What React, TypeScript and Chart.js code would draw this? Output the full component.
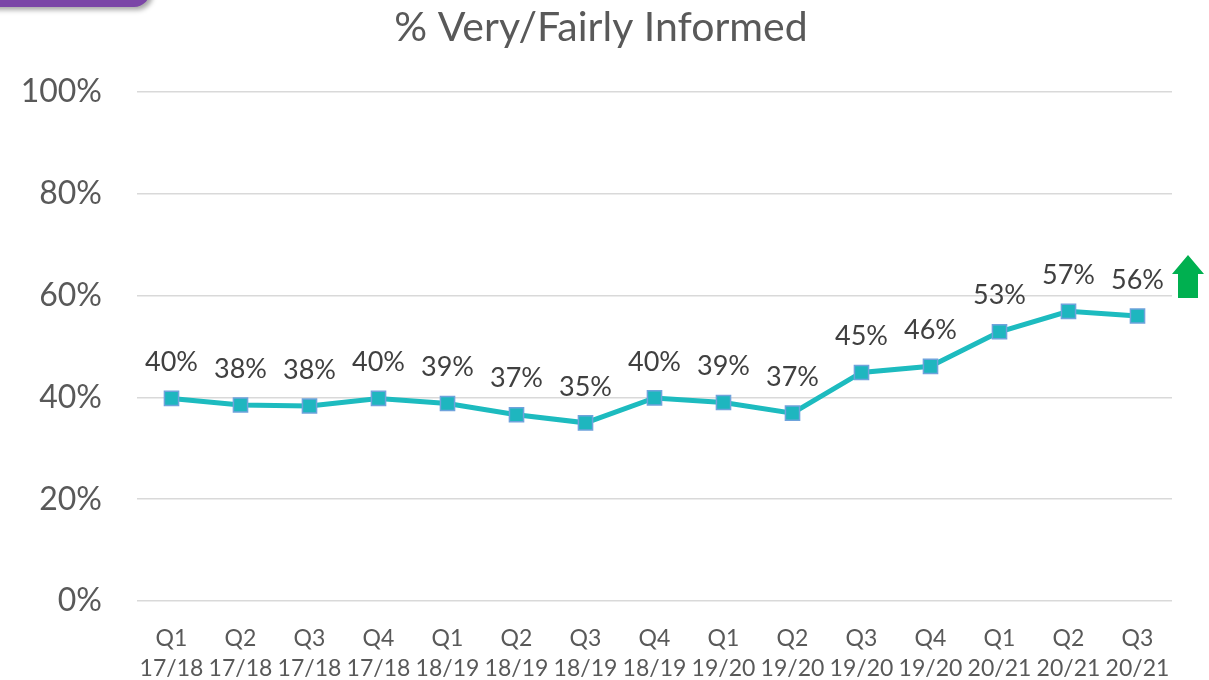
import React, { useEffect, useRef } from "react";
import { Chart, registerables } from "chart.js";

Chart.register(...registerables);

const categories: string[][] = [
  ["Q1", "17/18"], ["Q2", "17/18"], ["Q3", "17/18"], ["Q4", "17/18"],
  ["Q1", "18/19"], ["Q2", "18/19"], ["Q3", "18/19"], ["Q4", "18/19"],
  ["Q1", "19/20"], ["Q2", "19/20"], ["Q3", "19/20"], ["Q4", "19/20"],
  ["Q1", "20/21"], ["Q2", "20/21"], ["Q3", "20/21"],
];
const informedPct: number[] = [39.8, 38.5, 38.3, 39.8, 38.8, 36.6, 35.0, 39.9, 39.0, 36.9, 44.9, 46.1, 52.9, 56.9, 56.0];
const valueLabels: string[] = ["40%", "38%", "38%", "40%", "39%", "37%", "35%", "40%", "39%", "37%", "45%", "46%", "53%", "57%", "56%"];
const yTicks: number[] = [0, 20, 40, 60, 80, 100];
const titleText = "% Very/Fairly Informed";

const FONT = "Lato, 'Open Sans', sans-serif";

const overlayPlugin = {
  id: "overlay",
  afterDatasetsDraw(chart: any) {
    const ctx = chart.ctx;
    const meta = chart.getDatasetMeta(0);
    ctx.save();
    ctx.fillStyle = "#404040";
    ctx.font = `27px ${FONT}`;
    ctx.textAlign = "center";
    ctx.textBaseline = "middle";
    meta.data.forEach((pt: any, i: number) => {
      ctx.fillText(valueLabels[i], pt.x, pt.y - 36);
    });
    // title
    ctx.fillStyle = "#595959";
    ctx.font = `41px ${FONT}`;
    ctx.fillText(titleText, 601, 28);
    // green up arrow next to last point
    const last = meta.data[meta.data.length - 1];
    const ax = chart.chartArea.right + 16;
    const ay = last.y - 61;
    ctx.fillStyle = "#00B050";
    ctx.beginPath();
    ctx.moveTo(ax, ay);
    ctx.lineTo(ax + 16, ay + 19);
    ctx.lineTo(ax + 10, ay + 19);
    ctx.lineTo(ax + 10, ay + 43);
    ctx.lineTo(ax - 10, ay + 43);
    ctx.lineTo(ax - 10, ay + 19);
    ctx.lineTo(ax - 16, ay + 19);
    ctx.closePath();
    ctx.fill();
    ctx.restore();
  },
};

export default function App() {
  const ref = useRef<HTMLCanvasElement | null>(null);
  useEffect(() => {
    document.body.style.margin = "0";
    const chart = new Chart(ref.current as HTMLCanvasElement, {
      type: "line",
      data: {
        labels: categories,
        datasets: [
          {
            data: informedPct,
            borderColor: "#1DBBBF",
            borderWidth: 5,
            pointStyle: "rect",
            pointRadius: 10,
            pointBackgroundColor: "#1EB6BF",
            pointBorderColor: "#6FA3DC",
            pointBorderWidth: 1.5,
            tension: 0,
          },
        ],
      },
      options: {
        animation: false,
        responsive: false,
        layout: { padding: { top: 92, right: 37, left: 0, bottom: 0 } },
        plugins: { legend: { display: false }, title: { display: false }, tooltip: { enabled: false } },
        scales: {
          x: {
            offset: true,
            grid: { display: false },
            border: { display: false },
            ticks: {
              color: "#595959",
              font: { family: FONT, size: 23, lineHeight: 1.3 },
              padding: 15,
              maxRotation: 0,
              autoSkip: false,
            },
            afterFit(scale: any) {
              scale.height = 79;
            },
          },
          y: {
            min: 0,
            max: 100,
            afterBuildTicks(scale: any) {
              scale.ticks = yTicks.map((v) => ({ value: v }));
            },
            grid: { color: "#D9D9D9", lineWidth: 1.5, drawTicks: false },
            border: { display: false },
            ticks: {
              color: "#595959",
              font: { family: FONT, size: 32 },
              padding: 35,
              callback: (v: any) => `${v}%`,
            },
            afterFit(scale: any) {
              scale.width = 137;
            },
          },
        },
      },
      plugins: [overlayPlugin],
    });
    return () => chart.destroy();
  }, []);

  return (
    <div style={{ position: "relative", width: 1209, height: 680, background: "#fff", overflow: "hidden" }}>
      <div
        style={{
          position: "absolute",
          left: -20,
          top: -30,
          width: 170,
          height: 37,
          background: "#7B46A7",
          borderRadius: "0 0 16px 0",
          boxShadow: "3px 3px 5px rgba(0,0,0,0.35)",
        }}
      />
      <canvas ref={ref} width={1209} height={680} style={{ display: "block" }} />
    </div>
  );
}
